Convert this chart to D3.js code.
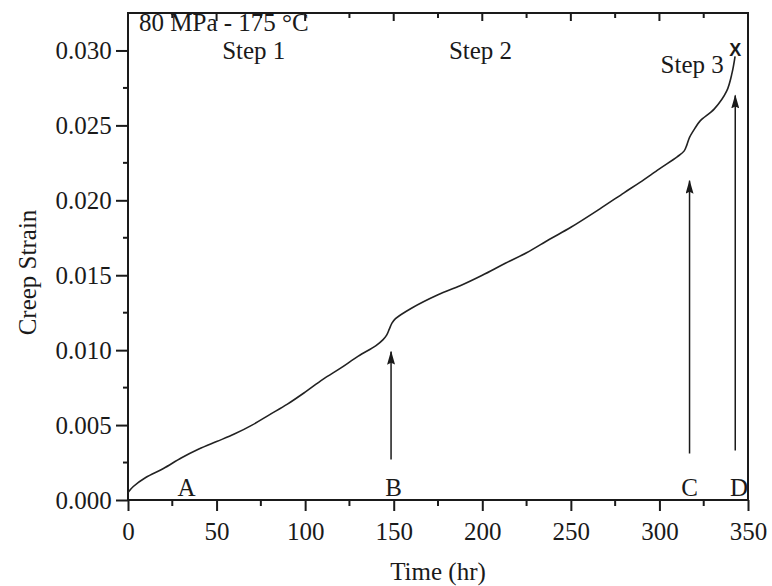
<!DOCTYPE html>
<html>
<head>
<meta charset="utf-8">
<script src="https://cdn.jsdelivr.net/npm/d3@7"></script>
<style>
  html, body { margin: 0; padding: 0; background: #fff; }
  svg { display: block; font-family: "Liberation Serif", "Times New Roman", serif; }
</style>
</head>
<body>
<svg id="chart" width="772" height="586"></svg>
<script>
// Creep curve: time (hr) vs creep strain
const timeHr = [0, 3, 10, 20, 30, 40, 50, 60, 70, 80, 90, 100, 110, 120, 130, 140, 144, 146, 147.5, 149, 151, 160, 175, 187.5, 200, 213, 225, 238, 250, 266, 280, 289, 300, 310, 314, 315.5, 317, 320, 323, 331, 338, 341, 342.7];
const creepStrain = [0.0005, 0.0009, 0.0015, 0.0021, 0.0028, 0.0034, 0.0039, 0.0044, 0.0050, 0.0057, 0.0064, 0.0072, 0.00805, 0.0088, 0.0096, 0.0103, 0.0107, 0.0110, 0.0114, 0.0118, 0.0121, 0.0128, 0.0137, 0.0143, 0.0150, 0.0158, 0.0165, 0.0174, 0.0182, 0.0194, 0.0205, 0.0212, 0.0221, 0.0229, 0.0233, 0.0237, 0.0242, 0.0248, 0.0253, 0.0261, 0.0273, 0.0285, 0.0296];

const xTicks = [0, 50, 100, 150, 200, 250, 300, 350];
const yTicks = [0.000, 0.005, 0.010, 0.015, 0.020, 0.025, 0.030];

// Stage labels and marker arrows
const stepLabels = ["Step 1", "Step 2", "Step 3"];
const stepTimes = [71, 199, 318.5];
const stepStrains = [0.02943, 0.02943, 0.0285];
const pointLabels = ["A", "B", "C", "D"];
const pointTimes = [33, 150, 317, 345];
const arrowTimes = [148.5, 317, 342.8];
const arrowFrom = [0.0027, 0.0031, 0.0033];
const arrowTo = [0.0099, 0.0213, 0.0270];
const failure = { time: 342.8, strain: 0.0300 };

const W = 772, H = 586;
const margin = { top: 13, right: 24, bottom: 86, left: 128 };
const svg = d3.select("#chart");
const serif = "Liberation Serif, Times New Roman, serif";
const fs = 25;

const x = d3.scaleLinear().domain([0, 350]).range([margin.left, W - margin.right]);
const y = d3.scaleLinear().domain([0, 0.0325]).range([H - margin.bottom, margin.top]);

const ink = "#1a1a1a";

// Bottom axis: major ticks with labels, minor ticks in between
const xMinor = d3.range(25, 350, 50);
const xAxis = d3.axisBottom(x).tickValues(xTicks).tickSize(11).tickFormat(d3.format("d"));
const gx = svg.append("g").attr("transform", `translate(0,${y(0)})`).call(xAxis)
  .attr("font-family", serif).attr("font-size", fs);
gx.select(".domain").remove();
gx.selectAll("line").attr("stroke", ink).attr("stroke-width", 2);
gx.selectAll("text").attr("fill", ink).attr("dy", "1.05em");
gx.selectAll(".minor").data(xMinor).enter().append("line")
  .attr("x1", d => x(d)).attr("x2", d => x(d)).attr("y1", 0).attr("y2", 6)
  .attr("stroke", ink).attr("stroke-width", 2);

// Left axis
const yMinor = d3.range(0.0025, 0.0325, 0.005);
const yAxis = d3.axisLeft(y).tickValues(yTicks).tickSize(12).tickFormat(d3.format(".3f"));
const gy = svg.append("g").attr("transform", `translate(${x(0)},0)`).call(yAxis)
  .attr("font-family", serif).attr("font-size", fs);
gy.select(".domain").remove();
gy.selectAll("line").attr("stroke", ink).attr("stroke-width", 2);
gy.selectAll("text").attr("fill", ink).attr("dx", "-0.05em");
gy.selectAll(".minor").data(yMinor).enter().append("line")
  .attr("x1", -5).attr("x2", 0).attr("y1", d => y(d)).attr("y2", d => y(d))
  .attr("stroke", ink).attr("stroke-width", 2);

// Top axis: inward ticks only
const gt = svg.append("g");
gt.selectAll("line").data(d3.range(25, 350, 25)).enter().append("line")
  .attr("x1", d => x(d)).attr("x2", d => x(d))
  .attr("y1", margin.top).attr("y2", d => margin.top + (d % 50 === 0 ? 8 : 5))
  .attr("stroke", ink).attr("stroke-width", 2);

// Frame
svg.append("rect")
  .attr("x", x(0)).attr("y", y(0.0325))
  .attr("width", x(350) - x(0)).attr("height", y(0) - y(0.0325))
  .attr("fill", "none").attr("stroke", ink).attr("stroke-width", 2);

// Creep curve
const pts = timeHr.map((t, i) => [t, creepStrain[i]]);
svg.append("path").datum(pts)
  .attr("fill", "none").attr("stroke", "#222").attr("stroke-width", 1.6)
  .attr("d", d3.line().x(d => x(d[0])).y(d => y(d[1])).curve(d3.curveCatmullRom.alpha(0.5)));

// Failure marker
svg.append("text").attr("x", x(failure.time)).attr("y", y(failure.strain))
  .attr("text-anchor", "middle").attr("dominant-baseline", "central")
  .attr("font-family", "Liberation Sans, Arial, sans-serif").attr("font-weight", "bold")
  .attr("font-size", 18).attr("fill", ink).text("X");

// Arrows
svg.append("defs").append("marker")
  .attr("id", "head").attr("viewBox", "0 0 14 8").attr("refX", 13).attr("refY", 4)
  .attr("markerWidth", 14).attr("markerHeight", 8).attr("markerUnits", "userSpaceOnUse")
  .attr("orient", "auto")
  .append("path").attr("d", "M14,4 L0,0 L2,4 L0,8 Z").attr("fill", ink);

svg.selectAll(".arrow").data(arrowTimes).enter().append("line")
  .attr("x1", d => x(d)).attr("x2", d => x(d))
  .attr("y1", (d, i) => y(arrowFrom[i])).attr("y2", (d, i) => y(arrowTo[i]))
  .attr("stroke", ink).attr("stroke-width", 1.5)
  .attr("marker-end", "url(#head)");

// Point labels along the time axis
svg.selectAll(".pl").data(pointLabels).enter().append("text")
  .attr("x", (d, i) => x(pointTimes[i])).attr("y", y(0) - 4)
  .attr("text-anchor", "middle").attr("font-size", fs).attr("fill", ink).text(d => d);

// Stage labels
svg.selectAll(".sl").data(stepLabels).enter().append("text")
  .attr("x", (d, i) => x(stepTimes[i])).attr("y", (d, i) => y(stepStrains[i]))
  .attr("text-anchor", "middle").attr("font-size", fs).attr("fill", ink).text(d => d);

// Test condition
svg.append("text").attr("x", x(0) + 11).attr("y", 30.5)
  .attr("font-size", fs).attr("fill", ink).text("80 MPa - 175 °C");

// Axis titles
svg.append("text").attr("x", (x(0) + x(350)) / 2).attr("y", 580)
  .attr("text-anchor", "middle").attr("font-size", fs).attr("fill", ink).text("Time (hr)");
svg.append("text").attr("transform", `translate(36,${(y(0) + y(0.0325)) / 2 + 16}) rotate(-90)`)
  .attr("text-anchor", "middle").attr("font-size", fs).attr("fill", ink).text("Creep Strain");
</script>
</body>
</html>
